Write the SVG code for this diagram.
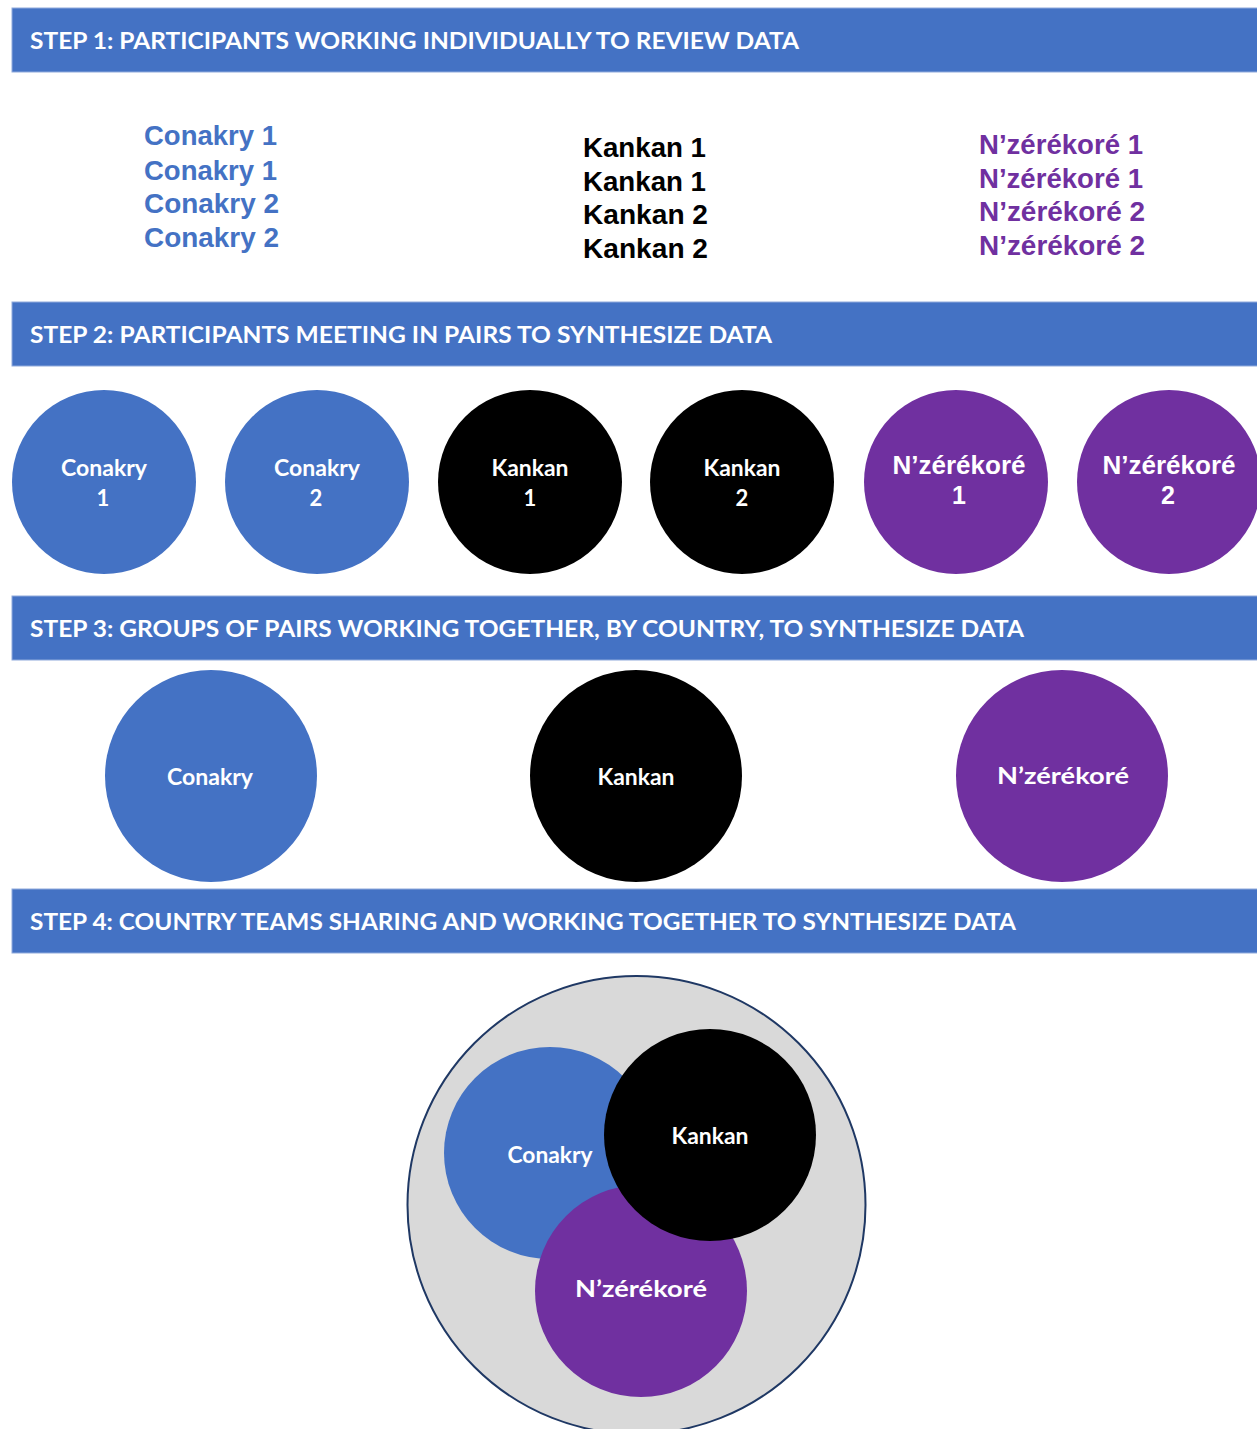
<svg xmlns="http://www.w3.org/2000/svg" width="1257" height="1429" viewBox="0 0 1257 1429">
<style>
.bar{fill:#4472C4;stroke:#8FAADC;stroke-width:1}
.hdr{font-family:Lato,"Liberation Sans",sans-serif;font-weight:700;font-size:23px;fill:#fff}
.lst{font-family:"Liberation Sans",Arial,sans-serif;font-weight:700;font-size:28px}
.cal{font-family:Lato,"Liberation Sans",sans-serif;font-weight:700;font-size:22px;fill:#fff;text-anchor:middle}
.ari{font-family:"Liberation Sans",Arial,sans-serif;font-weight:700;font-size:25px;fill:#fff;text-anchor:middle}
.blue{fill:#4472C4}.black{fill:#000}.purple{fill:#7030A0}
</style>
<rect width="1257" height="1429" fill="#fff"/>
<g id="step1">
<rect class="bar" x="12" y="8" width="1250" height="64"/>
<text class="hdr" x="30" y="49" textLength="769" lengthAdjust="spacingAndGlyphs">STEP 1: PARTICIPANTS WORKING INDIVIDUALLY TO REVIEW DATA</text>
</g>
<g id="list-conakry" class="lst blue">
<text x="144" y="145" textLength="133" lengthAdjust="spacingAndGlyphs">Conakry 1</text>
<text x="144" y="180" textLength="133" lengthAdjust="spacingAndGlyphs">Conakry 1</text>
<text x="144" y="213" textLength="135" lengthAdjust="spacingAndGlyphs">Conakry 2</text>
<text x="144" y="247" textLength="135" lengthAdjust="spacingAndGlyphs">Conakry 2</text>
</g>
<g id="list-kankan" class="lst black">
<text x="583" y="157" textLength="123" lengthAdjust="spacingAndGlyphs">Kankan 1</text>
<text x="583" y="191" textLength="123" lengthAdjust="spacingAndGlyphs">Kankan 1</text>
<text x="583" y="224" textLength="125" lengthAdjust="spacingAndGlyphs">Kankan 2</text>
<text x="583" y="258" textLength="125" lengthAdjust="spacingAndGlyphs">Kankan 2</text>
</g>
<g id="list-nzerekore" class="lst purple">
<text x="979" y="154" textLength="164" lengthAdjust="spacingAndGlyphs">N’zérékoré 1</text>
<text x="979" y="188" textLength="164" lengthAdjust="spacingAndGlyphs">N’zérékoré 1</text>
<text x="979" y="221" textLength="166" lengthAdjust="spacingAndGlyphs">N’zérékoré 2</text>
<text x="979" y="255" textLength="166" lengthAdjust="spacingAndGlyphs">N’zérékoré 2</text>
</g>
<g id="step2">
<rect class="bar" x="12" y="302" width="1250" height="64"/>
<text class="hdr" x="30" y="343" textLength="742" lengthAdjust="spacingAndGlyphs">STEP 2: PARTICIPANTS MEETING IN PAIRS TO SYNTHESIZE DATA</text>
</g>
<g id="pair-conakry1"><circle class="blue" cx="104" cy="482" r="92"/><text class="cal" x="104" y="476" textLength="86" lengthAdjust="spacingAndGlyphs">Conakry</text><text class="cal" x="103" y="506">1</text></g>
<g id="pair-conakry2"><circle class="blue" cx="317" cy="482" r="92"/><text class="cal" x="317" y="476" textLength="86" lengthAdjust="spacingAndGlyphs">Conakry</text><text class="cal" x="316" y="506">2</text></g>
<g id="pair-kankan1"><circle class="black" cx="530" cy="482" r="92"/><text class="cal" x="530" y="476" textLength="77" lengthAdjust="spacingAndGlyphs">Kankan</text><text class="cal" x="530" y="506">1</text></g>
<g id="pair-kankan2"><circle class="black" cx="742" cy="482" r="92"/><text class="cal" x="742" y="476" textLength="77" lengthAdjust="spacingAndGlyphs">Kankan</text><text class="cal" x="742" y="506">2</text></g>
<g id="pair-nzerekore1"><circle class="purple" cx="956" cy="482" r="92"/><text class="ari" x="959" y="474" textLength="133" lengthAdjust="spacingAndGlyphs">N’zérékoré</text><text class="ari" x="959" y="504">1</text></g>
<g id="pair-nzerekore2"><circle class="purple" cx="1169" cy="482" r="92"/><text class="ari" x="1169" y="474" textLength="133" lengthAdjust="spacingAndGlyphs">N’zérékoré</text><text class="ari" x="1168" y="504">2</text></g>
<g id="step3">
<rect class="bar" x="12" y="596" width="1250" height="64"/>
<text class="hdr" x="30" y="637" textLength="994" lengthAdjust="spacingAndGlyphs">STEP 3: GROUPS OF PAIRS WORKING TOGETHER, BY COUNTRY, TO SYNTHESIZE DATA</text>
</g>
<g id="group-conakry"><circle class="blue" cx="211" cy="776" r="106"/><text class="cal" x="210" y="785" textLength="86" lengthAdjust="spacingAndGlyphs">Conakry</text></g>
<g id="group-kankan"><circle class="black" cx="636" cy="776" r="106"/><text class="cal" x="636" y="785" textLength="77" lengthAdjust="spacingAndGlyphs">Kankan</text></g>
<g id="group-nzerekore"><circle class="purple" cx="1062" cy="776" r="106"/><text class="cal" x="1063" y="784" textLength="132" lengthAdjust="spacingAndGlyphs">N’zérékoré</text></g>
<g id="step4">
<rect class="bar" x="12" y="889" width="1250" height="64"/>
<text class="hdr" x="30" y="930" textLength="986" lengthAdjust="spacingAndGlyphs">STEP 4: COUNTRY TEAMS SHARING AND WORKING TOGETHER TO SYNTHESIZE DATA</text>
</g>
<g id="country-teams">
<circle cx="636.5" cy="1205" r="229" fill="#D9D9D9" stroke="#1F3864" stroke-width="2"/>
</g>
<g id="team-conakry"><circle class="blue" cx="550" cy="1153" r="106"/><text class="cal" x="550" y="1163" textLength="85" lengthAdjust="spacingAndGlyphs">Conakry</text></g>
<g id="team-nzerekore"><circle class="purple" cx="641" cy="1291" r="106"/><text class="cal" x="641" y="1297" textLength="132" lengthAdjust="spacingAndGlyphs">N’zérékoré</text></g>
<g id="team-kankan"><circle class="black" cx="710" cy="1135" r="106"/><text class="cal" x="710" y="1144" textLength="77" lengthAdjust="spacingAndGlyphs">Kankan</text></g>
<g id="connectors"/>
</svg>
